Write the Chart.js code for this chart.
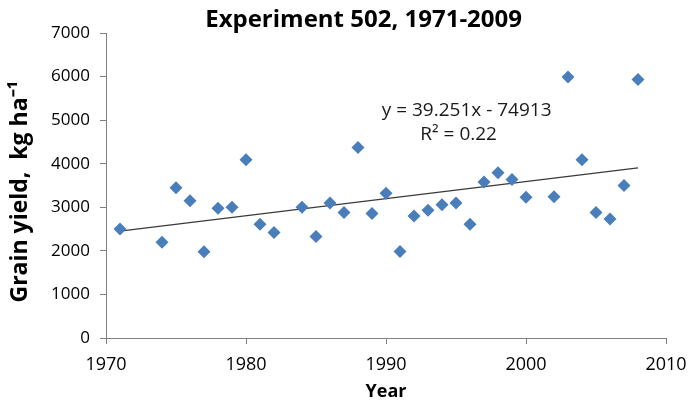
<!DOCTYPE html>
<html>
<head>
<meta charset="utf-8">
<script src="https://cdn.jsdelivr.net/npm/chart.js@4.4.1/dist/chart.umd.min.js"></script>
<style>
  html, body { margin: 0; padding: 0; background: #fff; }
  #wrap { width: 691px; height: 406px; }
</style>
</head>
<body>
<div id="wrap"><canvas id="myChart"></canvas></div>
<script>
const ctx = document.getElementById('myChart');

// anni e resa (kg/ha)
var anni = [1971, 1974, 1975, 1976, 1977, 1978, 1979, 1980, 1981, 1982,
            1984, 1985, 1986, 1987, 1988, 1989, 1990, 1991, 1992, 1993,
            1994, 1995, 1996, 1997, 1998, 1999, 2000, 2002, 2003, 2004,
            2005, 2006, 2007, 2008];
var resa = [2500, 2200, 3450, 3150, 1980, 2980, 3000, 4090, 2610, 2420,
            3000, 2330, 3100, 2880, 4370, 2860, 3320, 1985, 2800, 2930,
            3060, 3100, 2610, 3580, 3790, 3640, 3230, 3240, 5990, 4090,
            2880, 2730, 3500, 5930];
// estremi della linea di tendenza
var trendX = [1971, 2008];
var trendY = [2451, 3903];
var titolo = 'Experiment 502, 1971-2009';
var titoloY = 'Grain yield,  kg ha\u207b\u00b9';
var equazione = ['y = 39.251x - 74913', 'R\u00b2 = 0.22'];

var punti = anni.map(function (a, i) { return {x: a, y: resa[i]}; });
var trend = trendX.map(function (a, i) { return {x: a, y: trendY[i]}; });

const testo = {
  id: 'testo',
  afterDatasetsDraw(chart) {
    const c = chart.ctx;
    const area = chart.chartArea;
    const w = area.right - area.left;
    const h = area.bottom - area.top;
    c.save();
    c.textAlign = 'center';
    c.textBaseline = 'middle';
    // titolo
    c.fillStyle = '#000';
    c.font = 'bold 24px "Open Sans"';
    c.fillText(titolo, area.left + w * 0.46, 20);
    // titolo asse y
    c.save();
    c.translate(20, area.top + h * 0.52);
    c.rotate(-Math.PI / 2);
    c.font = 'bold 23px "Open Sans"';
    c.fillText(titoloY, 0, 0);
    c.restore();
    // equazione della retta
    c.fillStyle = '#1a1a1a';
    c.font = '19px "Open Sans"';
    const cx = area.left + w * 0.644;
    c.fillText(equazione[0], cx, 111);
    c.fillText(equazione[1], cx - 8, 135);
    c.restore();
  }
};

new Chart(ctx, {
  type: 'scatter',
  data: {
    datasets: [
      {
        label: 'resa',
        data: punti,
        pointStyle: 'rectRot',
        pointRadius: 6.5,
        pointHoverRadius: 6.5,
        backgroundColor: '#4a7ebb',
        borderColor: '#4a7ebb',
        borderWidth: 0
      },
      {
        label: 'tendenza',
        data: trend,
        showLine: true,
        pointRadius: 0,
        borderColor: '#3a3a3a',
        borderWidth: 1.2
      }
    ]
  },
  options: {
    responsive: true,
    maintainAspectRatio: false,
    animation: false,
    layout: { padding: { left: 0, right: 25, top: 33, bottom: 0 } },
    plugins: {
      legend: { display: false },
      tooltip: { enabled: false },
      title: { display: false }
    },
    scales: {
      x: {
        type: 'linear',
        min: 1970,
        max: 2010,
        ticks: {
          stepSize: 10,
          color: '#000',
          padding: 10,
          font: { family: '"Open Sans"', size: 18 },
          callback: function (v) { return String(v); }
        },
        grid: { drawOnChartArea: false, drawTicks: true, tickLength: 6, color: '#7f7f7f' },
        border: { display: true, color: '#7f7f7f', width: 1 },
        title: {
          display: true,
          text: 'Year',
          color: '#000',
          font: { family: '"Open Sans"', size: 18, weight: 'bold' },
          padding: { top: 0, bottom: 3 }
        },
        afterFit: function (s) { s.height = 68; s.paddingLeft = 0; s.paddingRight = 0; }
      },
      y: {
        min: 0,
        max: 7000,
        ticks: {
          stepSize: 1000,
          color: '#000',
          padding: 10,
          font: { family: '"Open Sans"', size: 17 },
          callback: function (v) { return String(v); }
        },
        grid: { drawOnChartArea: false, drawTicks: true, tickLength: 6, color: '#7f7f7f' },
        border: { display: true, color: '#7f7f7f', width: 1 },
        afterFit: function (s) { s.width = 106; s.paddingTop = 0; s.paddingBottom = 0; }
      }
    }
  },
  plugins: [testo]
});
</script>
</body>
</html>
